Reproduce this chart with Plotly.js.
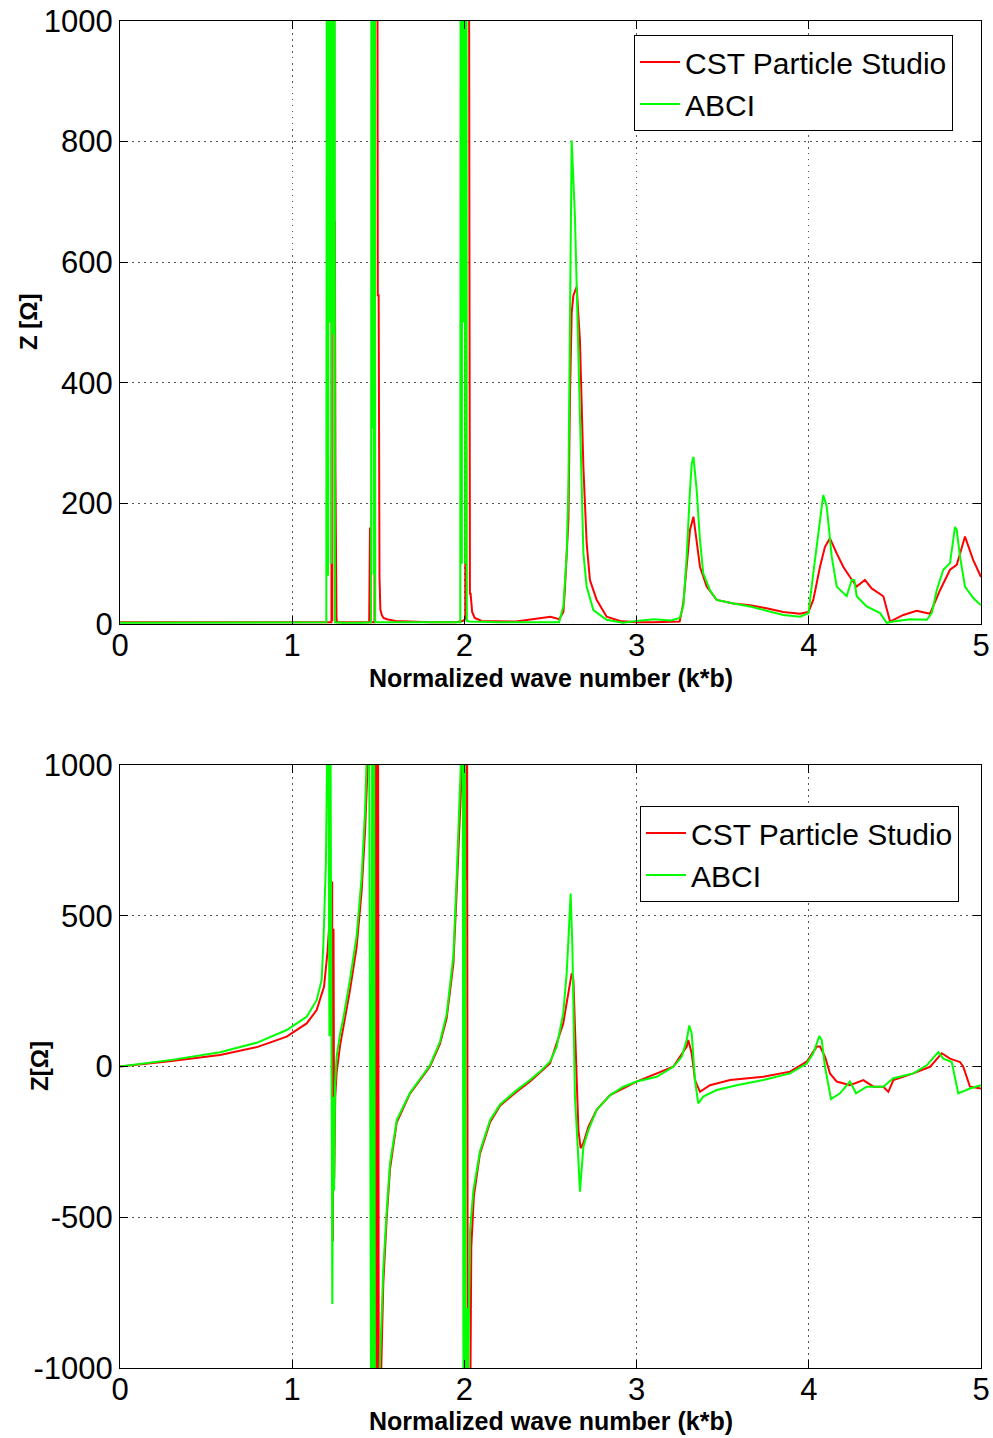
<!DOCTYPE html>
<html>
<head>
<meta charset="utf-8">
<script src="https://cdn.plot.ly/plotly-3.0.1.min.js"></script>
<style>html,body{margin:0;padding:0;background:#fff;}#chart{width:993px;height:1438px;}</style>
</head>
<body>
<div id="chart"></div>
<script>
// ---------- Data: real part (top panel) ----------
const cstReX = [0, 0.5, 1.0, 1.2, 1.228, 1.231, 1.233, 1.237, 1.241, 1.245, 1.248, 1.251, 1.254, 1.257, 1.26,
  1.3, 1.4, 1.447, 1.452, 1.457, 1.478, 1.482, 1.487, 1.492, 1.497, 1.502, 1.507, 1.512, 1.52, 1.53, 1.55, 1.6, 1.7, 1.8, 1.95,
  1.99, 2.005, 2.012, 2.018, 2.024, 2.028, 2.032, 2.036, 2.045, 2.06, 2.1, 2.3, 2.45, 2.5, 2.55,
  2.575, 2.584, 2.604, 2.613, 2.623, 2.633, 2.652, 2.671, 2.681, 2.691, 2.71, 2.729, 2.768, 2.826, 2.904, 3.0, 3.1, 3.2, 3.25,
  3.271, 3.31, 3.33, 3.349, 3.368, 3.407, 3.465, 3.562, 3.659, 3.755, 3.852, 3.949, 3.998,
  4.026, 4.065, 4.094, 4.123, 4.162, 4.2, 4.239, 4.278, 4.326, 4.365, 4.433, 4.472, 4.549, 4.626, 4.704, 4.762, 4.82, 4.859, 4.907, 4.955, 5.0];
const cstReY = [3, 3, 3, 3, 3, 2000, 5, 2500, 3000, 666, 666, 255, 85, 10, 3,
  3, 3, 3, 160, 3, 3, 2500, 3000, 2000, 545, 545, 76, 24, 15, 10, 8, 5, 4, 3, 3,
  5, 8, 2500, 3000, 1500, 200, 50, 50, 20, 10, 5, 4, 10, 12, 8,
  20, 60, 172, 376, 516, 545, 559, 470, 366, 260, 134, 73, 40, 12, 5, 3, 3, 3, 4,
  34, 156, 178, 139, 95, 62, 40, 34, 31, 26, 20, 17, 20,
  40, 95, 128, 142, 117, 95, 78, 62, 73, 59, 46, 4, 15, 22, 17, 56, 90, 98, 145, 106, 78];

const abciReX = [0, 0.5, 1.0, 1.198, 1.204, 1.209, 1.214, 1.219, 1.224, 1.229, 1.234, 1.239, 1.244, 1.248, 1.3,
  1.4, 1.458, 1.462, 1.466, 1.47, 1.474, 1.478, 1.482, 1.5, 1.6, 1.8, 1.95,
  1.976, 1.98, 1.985, 1.99, 1.995, 2.0, 2.005, 2.01, 2.014, 2.03, 2.2, 2.4, 2.55,
  2.575, 2.594, 2.604, 2.613, 2.623, 2.642, 2.652, 2.671, 2.681, 2.691, 2.71, 2.749, 2.826, 2.92, 3.0, 3.1, 3.2, 3.25,
  3.271, 3.291, 3.31, 3.32, 3.33, 3.349, 3.368, 3.387, 3.426, 3.465, 3.562, 3.659, 3.755, 3.852, 3.949, 3.998,
  4.026, 4.055, 4.084, 4.104, 4.133, 4.162, 4.22, 4.249, 4.264, 4.278, 4.336, 4.414, 4.452, 4.491, 4.588, 4.685, 4.714, 4.743, 4.781, 4.82, 4.849, 4.859, 4.878, 4.907, 4.955, 5.0];
const abciReY = [2, 2, 2, 3, 2500, 80, 3000, 500, 3000, 100, 2500, 480, 3000, 3, 2,
  2, 3, 2500, 324, 3000, 82, 2500, 3, 3, 3, 3, 3,
  3, 2500, 100, 3000, 500, 3000, 100, 2500, 5, 4, 3, 3, 3,
  30, 117, 227, 542, 802, 675, 570, 355, 227, 117, 62, 23, 7, 2, 5, 8, 6, 10,
  29, 112, 222, 266, 277, 222, 139, 84, 56, 40, 34, 29, 22, 15, 12, 18,
  84, 150, 214, 195, 112, 62, 46, 73, 73, 46, 29, 18, 2, 4, 8, 7, 18, 56, 90, 101, 161, 156, 112, 62, 43, 31];

// ---------- Data: imaginary part (bottom panel) ----------
const cstImX = [0, 0.3, 0.581, 0.8, 0.968, 1.084, 1.142, 1.185, 1.205, 1.22, 1.228,
  1.232, 1.236, 1.24, 1.244, 1.25, 1.258, 1.278, 1.297, 1.336, 1.374, 1.403, 1.423, 1.44, 1.452,
  1.478, 1.483, 1.488, 1.493, 1.498, 1.503, 1.515, 1.529, 1.549, 1.568, 1.607, 1.684, 1.8, 1.858, 1.897, 1.936, 1.955, 1.975, 1.99,
  2.005, 2.01, 2.015, 2.02, 2.025, 2.03, 2.04, 2.055, 2.09, 2.149, 2.207, 2.3, 2.381, 2.497,
  2.574, 2.604, 2.623, 2.633, 2.642, 2.652, 2.662, 2.675, 2.691, 2.72, 2.768, 2.846, 3.0, 3.213, 3.291, 3.3, 3.32, 3.339, 3.368, 3.426,
  3.543, 3.736, 3.891, 3.988, 4.046, 4.065, 4.094, 4.123, 4.162, 4.239, 4.317, 4.375, 4.433, 4.462, 4.491, 4.607, 4.704, 4.772, 4.82, 4.878, 4.897, 4.936, 5.0];
const cstImY = [0, 18, 38, 65, 99, 143, 187, 265, 380, 520, 614,
  614, -580, 457, -372, -100, -20, 70, 130, 255, 395, 580, 780, 980, 1200,
  1500, -1500, 1500, -1500, 1500, -1500, -1050, -720, -500, -340, -185, -90, 0, 75, 160, 340, 580, 840, 1050,
  1500, 620, 1500, -1500, -1000, -1500, -600, -430, -290, -185, -130, -85, -50, 10,
  143, 254, 309, 287, 121, -45, -211, -271, -254, -200, -144, -95, -50, -1, 66, 88, 44, -45, -84, -62,
  -45, -34, -17, 16, 66, 66, 33, -23, -50, -62, -45, -67, -67, -84, -45, -23, -1, 44, 26, 15, -1, -67, -73];

const abciImX = [0, 0.3, 0.581, 0.8, 0.968, 1.084, 1.142, 1.171, 1.181, 1.196, 1.204,
  1.21, 1.216, 1.222, 1.228, 1.233, 1.238, 1.243, 1.249, 1.258, 1.278, 1.297, 1.336, 1.374, 1.403, 1.423, 1.432, 1.438,
  1.445, 1.46, 1.465, 1.47, 1.475, 1.481, 1.49, 1.51, 1.529, 1.549, 1.568, 1.607, 1.684, 1.8, 1.858, 1.897, 1.936, 1.955, 1.971, 1.98,
  1.99, 1.995, 2.003, 2.008, 2.015, 2.02, 2.033, 2.052, 2.09, 2.149, 2.207, 2.3, 2.381,
  2.439, 2.497, 2.536, 2.574, 2.594, 2.604, 2.617, 2.627, 2.633, 2.642, 2.658, 2.671, 2.691, 2.72, 2.768, 2.846, 2.923, 3.0,
  3.117, 3.213, 3.262, 3.291, 3.306, 3.32, 3.339, 3.358, 3.387, 3.465, 3.581, 3.736, 3.891, 3.988, 4.026, 4.061, 4.075, 4.094,
  4.129, 4.181, 4.239, 4.274, 4.336, 4.433, 4.491, 4.607, 4.685, 4.752, 4.781, 4.83, 4.868, 4.936, 5.0];
const abciImY = [0, 22, 47, 80, 121, 165, 220, 287, 406, 679, 1100,
  1200, 100, 1200, 108, -788, -100, -412, -60, 33, 108, 160, 290, 432, 627, 848, 1017, 1200,
  1500, -1500, 1500, -1500, 1500, -1500, -1300, -1009, -671, -476, -321, -178, -87, 4, 82, 173, 368, 627, 887, 1017,
  1500, -1500, 1500, -1500, -800, -1100, -541, -412, -282, -178, -126, -80, -45,
  -17, 16, 66, 176, 309, 420, 574, 397, 121, -100, -266, -415, -266, -211, -144, -95, -67, -50,
  -34, -1, 32, 88, 136, 110, -45, -122, -100, -78, -62, -45, -23, 10, 44, 101, 88, -1,
  -108, -89, -50, -89, -67, -67, -39, -23, 4, 48, 26, 15, -89, -73, -62];

const seriesNames = ["CST Particle Studio", "ABCI"];
const xTicks = [0, 1, 2, 3, 4, 5];
const yTicksTop = [0, 200, 400, 600, 800, 1000];
const yTicksBottom = [-1000, -500, 0, 500, 1000];
const yTicksBottomText = ["-1000", "-500", "0", "500", "1000"];
const xTitle = "Normalized wave number (k*b)";
const yTitleTop = "Z [Ω]";
const yTitleBottom = "Z[Ω]";

const RED = "#ff0000", GREEN = "#00ff00";
const FONT = "Liberation Sans, Arial, Helvetica, sans-serif";

const traces = [
  {x: cstReX, y: cstReY, name: seriesNames[0], type: "scatter", mode: "lines", line: {color: RED, width: 2}, xaxis: "x", yaxis: "y", legend: "legend"},
  {x: abciReX, y: abciReY, name: seriesNames[1], type: "scatter", mode: "lines", line: {color: GREEN, width: 2}, xaxis: "x", yaxis: "y", legend: "legend"},
  {x: cstImX, y: cstImY, name: seriesNames[0], type: "scatter", mode: "lines", line: {color: RED, width: 2}, xaxis: "x2", yaxis: "y2", legend: "legend2"},
  {x: abciImX, y: abciImY, name: seriesNames[1], type: "scatter", mode: "lines", line: {color: GREEN, width: 2}, xaxis: "x2", yaxis: "y2", legend: "legend2"}
];

function axisBase(extra) {
  return Object.assign({
    showline: true, linecolor: "#000", linewidth: 1, mirror: "ticks",
    ticks: "inside", ticklen: 8, tickcolor: "#000", tickwidth: 1,
    showgrid: true, gridcolor: "#555", griddash: "1.5px,4.5px", gridwidth: 1.2,
    zeroline: false, tickfont: {family: FONT, size: 31, color: "#000"},
    fixedrange: true
  }, extra);
}

const xDom = [120/993, 981/993];
const legendFont = {family: FONT, size: 30, color: "#000"};
const layout = {
  width: 993, height: 1438,
  margin: {l: 0, r: 0, t: 0, b: 0},
  paper_bgcolor: "#fff", plot_bgcolor: "#fff",
  font: {family: FONT, color: "#000"},
  xaxis: axisBase({domain: xDom, range: [0, 5], anchor: "y", tickvals: xTicks, ticktext: xTicks.map(String), ticklabelstandoff: -6}),
  yaxis: axisBase({domain: [1 - 624/1438, 1 - 21/1438], range: [0, 1000], anchor: "x", tickvals: yTicksTop, ticktext: yTicksTop.map(String)}),
  xaxis2: axisBase({domain: xDom, range: [0, 5], anchor: "y2", tickvals: xTicks, ticktext: xTicks.map(String), ticklabelstandoff: -6}),
  yaxis2: axisBase({domain: [1 - 1368/1438, 1 - 765/1438], range: [-1000, 1000], anchor: "x2", tickvals: yTicksBottom, ticktext: yTicksBottomText}),
  showlegend: true,
  legend: {x: 953/993, y: 1 - 35/1438, xanchor: "right", yanchor: "top", bgcolor: "#fff", bordercolor: "#000", borderwidth: 1,
    font: legendFont, tracegroupgap: 0, itemwidth: 40},
  legend2: {x: 959/993, y: 1 - 806/1438, xanchor: "right", yanchor: "top", bgcolor: "#fff", bordercolor: "#000", borderwidth: 1,
    font: legendFont, tracegroupgap: 0, itemwidth: 40},
  annotations: [
    {text: "<b>" + xTitle + "</b>", xref: "paper", yref: "paper", x: 550.5/993, y: 1 - 678/1438, xanchor: "center", yanchor: "middle", showarrow: false, font: {family: FONT, size: 25, color: "#000"}},
    {text: "<b>" + xTitle + "</b>", xref: "paper", yref: "paper", x: 550.5/993, y: 1 - 1421/1438, xanchor: "center", yanchor: "middle", showarrow: false, font: {family: FONT, size: 25, color: "#000"}},
    {text: "<b>" + yTitleTop + "</b>", xref: "paper", yref: "paper", x: 28/993, y: 1 - 322/1438, xanchor: "center", yanchor: "middle", textangle: -90, showarrow: false, font: {family: FONT, size: 24, color: "#000"}},
    {text: "<b>" + yTitleBottom + "</b>", xref: "paper", yref: "paper", x: 39/993, y: 1 - 1066/1438, xanchor: "center", yanchor: "middle", textangle: -90, showarrow: false, font: {family: FONT, size: 24, color: "#000"}}
  ]
};

Plotly.newPlot("chart", traces, layout, {displayModeBar: false, staticPlot: true});
</script>
</body>
</html>
